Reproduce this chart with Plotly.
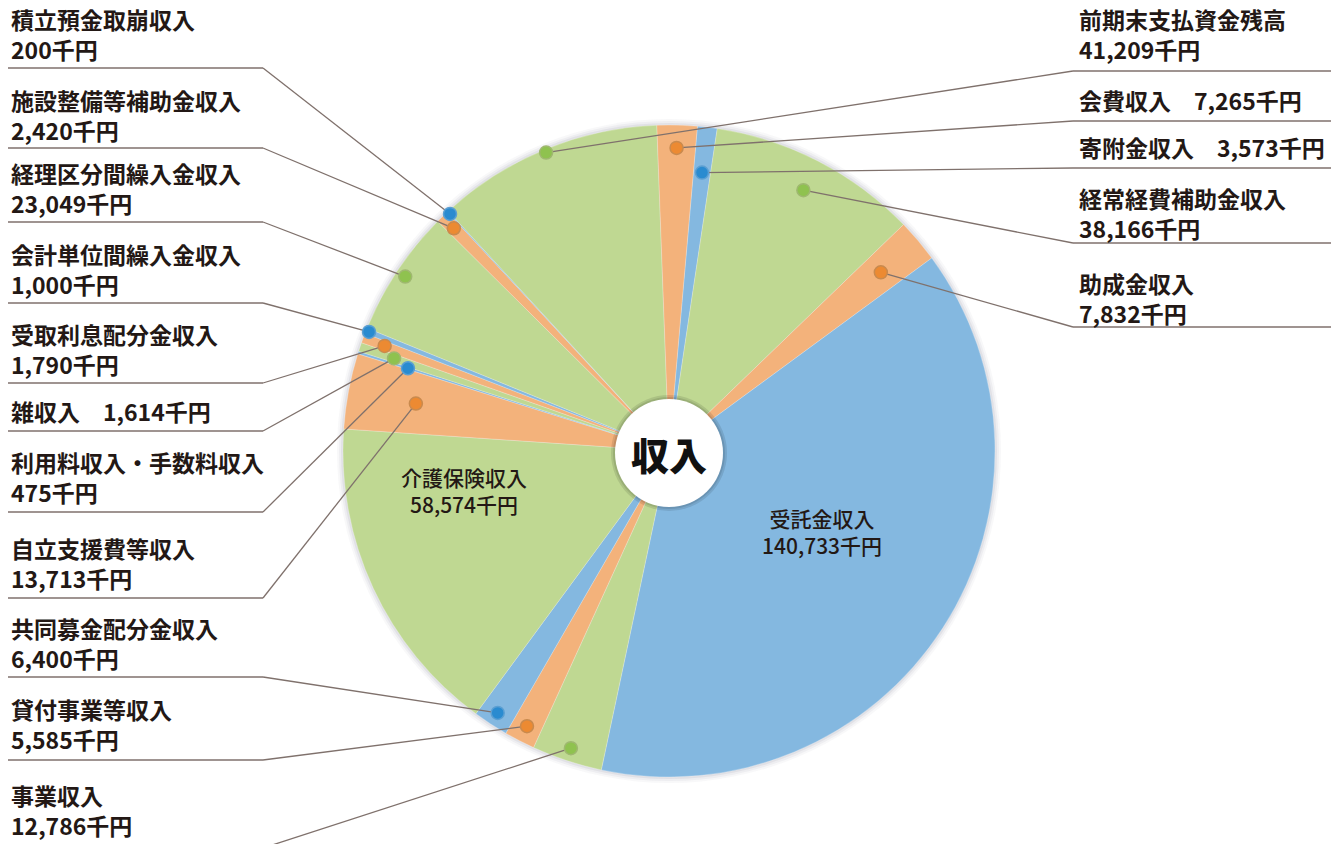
import math
import plotly.graph_objects as go

# ---------------- data ----------------
labels = ["寄附金収入", "経常経費補助金収入", "助成金収入", "受託金収入", "事業収入",
          "貸付事業等収入", "共同募金配分金収入", "介護保険収入", "自立支援費等収入",
          "利用料収入・手数料収入", "雑収入", "受取利息配分金収入", "会計単位間繰入金収入",
          "経理区分間繰入金収入", "施設整備等補助金収入", "積立預金取崩収入",
          "前期末支払資金残高", "会費収入"]
values = [3573, 38166, 7832, 140733, 12786, 5585, 6400, 58574, 13713,
          475, 1614, 1790, 1000, 23049, 2420, 200, 41209, 7265]
unit = "千円"
center_title = "収入"

# ---------------- layout / style ----------------
W, H = 1339, 844          # browser window
OFF = 8                   # page body margin
FW, FH = W - OFF, H - OFF  # figure size
CX, CY, R = 669, 451, 326
ROT = 5

SLICE_COLORS = ["#84b8e0", "#bfd892", "#f3b27b"]          # blue, green, orange
DOT_FILL = ["#2a8bd0", "#8fc24f", "#ec8a32"]
DOT_RING = ["#5b9fd2", "#9fb870", "#c98a4e"]
TEXT_COLOR = "#231815"
LINE_COLOR = "#7f716c"
FONT = "Noto Sans CJK JP"

# label placement: side, name-line y, underline y, single-line?
LABEL_POS = {
    "積立預金取崩収入": ("L", 19, 68, False),
    "施設整備等補助金収入": ("L", 100, 148, False),
    "経理区分間繰入金収入": ("L", 173, 222, False),
    "会計単位間繰入金収入": ("L", 254, 303, False),
    "受取利息配分金収入": ("L", 334, 383, False),
    "雑収入": ("L", 411, 431, True),
    "利用料収入・手数料収入": ("L", 462, 512, False),
    "自立支援費等収入": ("L", 548, 598, False),
    "共同募金配分金収入": ("L", 628, 677, False),
    "貸付事業等収入": ("L", 709, 760, False),
    "事業収入": ("L", 795, 848, False),
    "前期末支払資金残高": ("R", 19, 71, False),
    "会費収入": ("R", 100, 121, True),
    "寄附金収入": ("R", 147, 168, True),
    "経常経費補助金収入": ("R", 198, 243, False),
    "助成金収入": ("R", 283, 327, False),
}
# radial position of the marker dot (fraction of radius)
DOT_RFRAC = {
    "寄附金収入": 0.86, "経常経費補助金収入": 0.90, "助成金収入": 0.85,
    "事業収入": 0.96, "貸付事業等収入": 0.95, "共同募金配分金収入": 0.96,
    "自立支援費等収入": 0.79, "利用料収入・手数料収入": 0.84, "雑収入": 0.89,
    "受取利息配分金収入": 0.93, "会計単位間繰入金収入": 0.99,
    "経理区分間繰入金収入": 0.97, "施設整備等補助金収入": 0.95,
    "積立預金取崩収入": 0.99, "前期末支払資金残高": 0.99, "会費収入": 0.93,
}
# inside labels: (angle offset from slice middle in degrees, radius fraction)
INSIDE_POS = {"受託金収入": (-5, 0.53), "介護保険収入": (14, 0.64)}

L_TEXT_X, L_LINE_X0, L_KINK_X = 10, 8, 263
R_TEXT_X, R_KINK_X, R_LINE_X1 = 1078, 1073, 1333
FS = 23
LINE_GAP = 30

colors = [SLICE_COLORS[i % 3] for i in range(len(values))]

fig = go.Figure()
# invisible trace to create the pixel-mapped cartesian axes
fig.add_trace(go.Scatter(x=[OFF, W], y=[OFF, H], mode="markers",
                         marker=dict(opacity=0), hoverinfo="skip", showlegend=False))
fig.add_trace(go.Pie(
    labels=labels, values=values, sort=False, direction="clockwise", rotation=ROT,
    marker=dict(colors=colors, line=dict(color="rgba(255,255,255,0.45)", width=0.5)),
    textinfo="none", hoverinfo="label+value", showlegend=False,
    domain=dict(x=[(CX - R - OFF) / FW, (CX + R - OFF) / FW],
                y=[(H - CY - R) / FH, (H - CY + R) / FH]),
))

shapes = []
annotations = []

# soft edge around the pie
for dr, op in [(6, 0.05), (4, 0.07), (2, 0.10)]:
    shapes.append(dict(type="circle", layer="below", xref="x", yref="y",
                       x0=CX - R - dr, x1=CX + R + dr, y0=CY - R - dr, y1=CY + R + dr,
                       fillcolor=f"rgba(120,120,135,{op})", line=dict(width=0)))

total = float(sum(values))
cum = 0.0
dots = []
for i, (lab, val) in enumerate(zip(labels, values)):
    a0 = ROT + cum / total * 360.0
    cum += val
    a1 = ROT + cum / total * 360.0
    mid_deg = (a0 + a1) / 2.0
    if lab in INSIDE_POS:
        dang, rf = INSIDE_POS[lab]
        ang = math.radians(mid_deg + dang)
        rr = rf * R
        tx, ty = CX + rr * math.sin(ang), CY - rr * math.cos(ang)
        annotations.append(dict(x=tx, y=ty, xref="x", yref="y",
                                text=f"{lab}<br>{val:,}{unit}", showarrow=False,
                                xanchor="center", yanchor="middle", align="center",
                                font=dict(family=FONT, size=21, color=TEXT_COLOR, weight=500)))
        continue
    mid = math.radians(mid_deg)
    rr = DOT_RFRAC[lab] * R
    dx, dy = CX + rr * math.sin(mid), CY - rr * math.cos(mid)
    side, ny, uy, single = LABEL_POS[lab]
    if side == "L":
        tx, kx = L_TEXT_X, L_KINK_X
        shapes.append(dict(type="line", xref="x", yref="y", x0=L_LINE_X0, x1=kx, y0=uy, y1=uy,
                           line=dict(color=LINE_COLOR, width=1.3), layer="above"))
    else:
        tx, kx = R_TEXT_X, R_KINK_X
        shapes.append(dict(type="line", xref="x", yref="y", x0=kx, x1=R_LINE_X1, y0=uy, y1=uy,
                           line=dict(color=LINE_COLOR, width=1.3), layer="above"))
    shapes.append(dict(type="line", xref="x", yref="y", x0=kx, y0=uy, x1=dx, y1=dy,
                       line=dict(color=LINE_COLOR, width=1.3), layer="above"))
    dots.append((dx, dy, i % 3))
    font = dict(family=FONT, size=FS, color=TEXT_COLOR, weight="bold")
    if single:
        annotations.append(dict(x=tx, y=ny, xref="x", yref="y",
                                text=f"{lab}\u3000{val:,}{unit}", showarrow=False,
                                xanchor="left", yanchor="middle", font=font, borderpad=0))
    else:
        annotations.append(dict(x=tx, y=ny + LINE_GAP / 2.0, xref="x", yref="y",
                                text=f"{lab}<br>{val:,}{unit}", showarrow=False,
                                xanchor="left", yanchor="middle", align="left",
                                font=font, borderpad=0))

DR = 6.5
for dx, dy, k in dots:
    shapes.append(dict(type="circle", xref="x", yref="y", layer="above",
                       x0=dx - DR, x1=dx + DR, y0=dy - DR, y1=dy + DR,
                       fillcolor=DOT_FILL[k], line=dict(color=DOT_RING[k], width=1.5)))

# centre badge
CCX, CCY = 669, 453
for rr, col in [(58, "rgba(0,0,0,0.10)"), (56, "rgba(0,0,0,0.10)"), (54, "white")]:
    shapes.append(dict(type="circle", xref="x", yref="y", layer="above",
                       x0=CCX - rr, x1=CCX + rr, y0=CCY - rr, y1=CCY + rr,
                       fillcolor=col, line=dict(width=0)))
annotations.append(dict(x=CCX, y=CCY, xref="x", yref="y", text=center_title, showarrow=False,
                        xanchor="center", yanchor="middle",
                        font=dict(family=FONT, size=38, color="#111111", weight=900)))

fig.update_layout(
    width=FW, height=FH, margin=dict(l=0, r=0, t=0, b=0),
    paper_bgcolor="white", plot_bgcolor="white",
    xaxis=dict(range=[OFF, W], visible=False, fixedrange=True),
    yaxis=dict(range=[H, OFF], visible=False, fixedrange=True),
    shapes=shapes, annotations=annotations,
)

fig.write_html("out.html")
